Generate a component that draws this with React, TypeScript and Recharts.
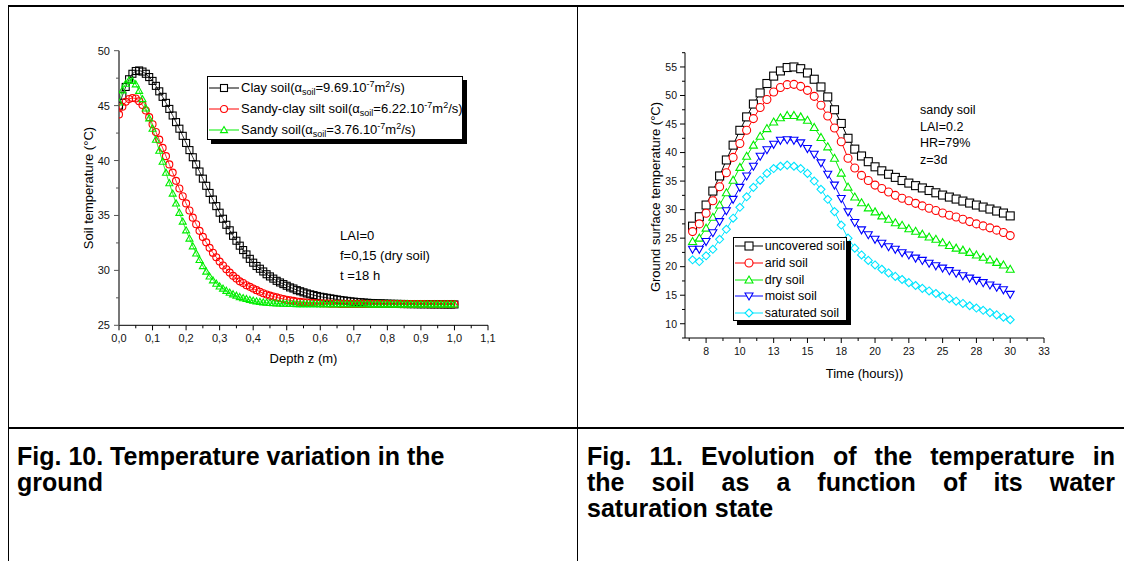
import { LineChart, Line, XAxis, YAxis, Legend } from 'recharts'

const FONT = '"Liberation Sans", Arial, Helvetica, sans-serif'

// ---- Fig. 10 : soil temperature vs depth ----
const depth = [
  0, 0.01, 0.02, 0.03, 0.04, 0.05, 0.06, 0.07, 0.08, 0.09,
  0.1, 0.11, 0.12, 0.13, 0.14, 0.15, 0.16, 0.17, 0.18, 0.19,
  0.2, 0.21, 0.22, 0.23, 0.24, 0.25, 0.26, 0.27, 0.28, 0.29,
  0.3, 0.31, 0.32, 0.33, 0.34, 0.35, 0.36, 0.37, 0.38, 0.39,
  0.4, 0.41, 0.42, 0.43, 0.44, 0.45, 0.46, 0.47, 0.48, 0.49,
  0.5, 0.51, 0.52, 0.53, 0.54, 0.55, 0.56, 0.57, 0.58, 0.59,
  0.6, 0.61, 0.62, 0.63, 0.64, 0.65, 0.66, 0.67, 0.68, 0.69,
  0.7, 0.71, 0.72, 0.73, 0.74, 0.75, 0.76, 0.77, 0.78, 0.79,
  0.8, 0.81, 0.82, 0.83, 0.84, 0.85, 0.86, 0.87, 0.88, 0.89,
  0.9, 0.91, 0.92, 0.93, 0.94, 0.95, 0.96, 0.97, 0.98, 0.99,
  1.0,
]
const claySoil = [
  45.0, 45.9, 46.7, 47.4, 47.9, 48.15, 48.2, 48.1, 47.9, 47.6,
  47.25, 46.8, 46.3, 45.8, 45.25, 44.7, 44.1, 43.5, 42.9, 42.25,
  41.6, 40.95, 40.3, 39.65, 39.0, 38.35, 37.7, 37.05, 36.45, 35.85,
  35.25, 34.7, 34.15, 33.65, 33.15, 32.7, 32.25, 31.85, 31.45, 31.05,
  30.7, 30.4, 30.15, 29.9, 29.65, 29.45, 29.25, 29.05, 28.9, 28.75,
  28.6, 28.45, 28.35, 28.2, 28.1, 28.0, 27.9, 27.82, 27.75, 27.67,
  27.6, 27.55, 27.5, 27.45, 27.4, 27.35, 27.3, 27.26, 27.22, 27.18,
  27.15, 27.12, 27.1, 27.07, 27.05, 27.03, 27.02, 27.0, 27.0, 26.98,
  26.97, 26.96, 26.95, 26.95, 26.94, 26.94, 26.93, 26.93, 26.93, 26.92,
  26.92, 26.92, 26.92, 26.91, 26.91, 26.91, 26.91, 26.9, 26.9, 26.9,
  26.9,
]
const sandyClaySoil = [
  44.2, 44.9, 45.35, 45.6, 45.7, 45.65, 45.4, 45.05, 44.55, 43.95,
  43.3, 42.6, 41.9, 41.15, 40.4, 39.65, 38.9, 38.15, 37.45, 36.75,
  36.1, 35.45, 34.8, 34.2, 33.6, 33.05, 32.55, 32.05, 31.6, 31.2,
  30.8, 30.45, 30.1, 29.8, 29.5, 29.25, 29.0, 28.85, 28.65, 28.5,
  28.35, 28.2, 28.05, 27.92, 27.8, 27.7, 27.62, 27.54, 27.46, 27.4,
  27.33, 27.27, 27.22, 27.17, 27.13, 27.1, 27.07, 27.05, 27.03, 27.01,
  27.0, 26.99, 26.98, 26.97, 26.96, 26.96, 26.95, 26.95, 26.95, 26.95,
  26.95, 26.95, 26.95, 26.95, 26.94, 26.94, 26.94, 26.94, 26.94, 26.94,
  26.94, 26.94, 26.94, 26.94, 26.93, 26.93, 26.93, 26.93, 26.93, 26.93,
  26.93, 26.93, 26.92, 26.92, 26.92, 26.92, 26.92, 26.92, 26.92, 26.92,
  26.92,
]
const sandySoil = [
  45.3, 46.4, 47.0, 47.3, 47.25, 46.95, 46.35, 45.6, 44.75, 43.85,
  42.9, 41.9, 40.9, 39.9, 38.9, 37.95, 37.0, 36.1, 35.25, 34.45,
  33.65, 32.9, 32.2, 31.55, 30.95, 30.4, 29.9, 29.45, 29.1, 28.8,
  28.55, 28.35, 28.15, 27.98, 27.83, 27.7, 27.58, 27.48, 27.4, 27.32,
  27.25, 27.19, 27.14, 27.1, 27.07, 27.04, 27.02, 27.0, 26.99, 26.98,
  26.97, 26.96, 26.95, 26.94, 26.94, 26.94, 26.94, 26.94, 26.94, 26.94,
  26.94, 26.94, 26.94, 26.93, 26.93, 26.93, 26.93, 26.93, 26.93, 26.93,
  26.93, 26.93, 26.93, 26.93, 26.93, 26.92, 26.92, 26.92, 26.92, 26.92,
  26.92, 26.92, 26.92, 26.92, 26.92, 26.92, 26.92, 26.91, 26.91, 26.91,
  26.91, 26.91, 26.91, 26.91, 26.91, 26.9, 26.9, 26.9, 26.9, 26.9,
  26.9,
]
const depthMajors = [0, 0.1, 0.2, 0.3, 0.4, 0.5, 0.6, 0.7, 0.8, 0.9, 1.0, 1.1]
const depthLabels = ['0,0', '0,1', '0,2', '0,3', '0,4', '0,5', '0,6', '0,7', '0,8', '0,9', '1,0', '1,1']
const soilTempMajors = [25, 30, 35, 40, 45, 50]
const soilTempLabels = ['25', '30', '35', '40', '45', '50']
const depthNames = ['Clay soil', 'Sandy-clay silt soil', 'Sandy soil']
const depthAlphas = ['9.69', '6.22', '3.76']

// ---- Fig. 11 : surface temperature vs time ----
const hours = [
  6.5, 7, 7.5, 8, 8.5, 9, 9.5, 10, 10.5, 11, 11.5, 12, 12.5, 13, 13.5, 14,
  14.5, 15, 15.5, 16, 16.5, 17, 17.5, 18, 18.5, 19, 19.5, 20, 20.5, 21, 21.5, 22,
  22.5, 23, 23.5, 24, 24.5, 25, 25.5, 26, 26.5, 27, 27.5, 28, 28.5, 29, 29.5, 30,
]
const uncoveredSoil = [
  27.1, 28.75, 30.8, 33.25, 35.9, 38.7, 41.3, 43.9, 46.25, 48.5, 50.45, 52.1, 53.4, 54.3, 54.9, 55.0,
  54.7, 53.95, 52.85, 51.5, 49.75, 47.5, 45.1, 42.5, 40.6, 39.4, 38.4, 37.5, 36.8, 36.2, 35.65, 35.1,
  34.65, 34.2, 33.8, 33.35, 32.95, 32.55, 32.2, 31.85, 31.5, 31.15, 30.8, 30.45, 30.1, 29.75, 29.4, 28.9,
]
const aridSoil = [
  26.15, 27.5, 29.35, 31.55, 34.0, 36.45, 39.15, 41.6, 43.9, 45.95, 47.9, 49.3, 50.6, 51.4, 51.9, 51.95,
  51.6, 50.9, 49.85, 48.3, 46.4, 44.3, 41.9, 39.0, 37.3, 36.0, 35.1, 34.3, 33.7, 33.1, 32.5, 32.0,
  31.55, 31.1, 30.65, 30.25, 29.85, 29.4, 29.0, 28.7, 28.3, 27.9, 27.5, 27.15, 26.8, 26.4, 26.0, 25.45,
]
const drySoil = [
  24.4, 25.0, 26.75, 28.65, 30.8, 32.95, 35.15, 37.4, 39.35, 41.3, 42.85, 44.2, 45.35, 46.1, 46.5, 46.5,
  46.25, 45.65, 44.4, 42.65, 41.0, 39.0, 36.4, 33.95, 32.2, 31.2, 30.3, 29.6, 28.9, 28.3, 27.7, 27.25,
  26.65, 26.2, 25.7, 25.2, 24.8, 24.2, 23.7, 23.25, 22.9, 22.5, 22.05, 21.65, 21.2, 20.75, 20.3, 19.55,
]
const moistSoil = [
  23.05, 23.05, 24.4, 25.95, 27.9, 29.8, 31.8, 33.9, 35.9, 37.6, 39.35, 40.5, 41.45, 42.15, 42.25, 42.15,
  41.7, 40.7, 39.7, 38.2, 36.2, 34.3, 31.95, 29.6, 27.75, 26.45, 25.6, 24.8, 24.1, 23.5, 23.05, 22.45,
  22.05, 21.5, 21.1, 20.6, 20.15, 19.75, 19.3, 18.85, 18.4, 18.0, 17.6, 17.2, 16.8, 16.4, 15.95, 15.15,
]
const saturatedSoil = [
  21.2, 20.9, 21.9, 23.05, 24.8, 26.55, 28.5, 30.4, 32.25, 33.9, 35.15, 36.35, 37.2, 37.6, 37.8, 37.6,
  37.2, 36.35, 35.0, 33.55, 31.8, 29.65, 27.3, 25.0, 23.25, 22.05, 21.1, 20.3, 19.55, 18.9, 18.3, 17.75,
  17.2, 16.7, 16.2, 15.75, 15.3, 14.85, 14.4, 13.95, 13.55, 13.15, 12.75, 12.35, 11.95, 11.55, 11.15, 10.7,
]
const timeMajors = [7.5, 10, 12.5, 15, 17.5, 20, 22.5, 25, 27.5, 30, 32.5]
const timeLabels = ['8', '10', '13', '15', '18', '20', '23', '25', '28', '30', '33']
const surfTempMajors = [10, 15, 20, 25, 30, 35, 40, 45, 50, 55]
const surfTempLabels = ['10', '15', '20', '25', '30', '35', '40', '45', '50', '55']
const timeNames = ['uncovered soil', 'arid soil', 'dry soil', 'moist soil', 'saturated soil']

const depthData = depth.map((z, i) => ({ z, clay: claySoil[i], sandyClay: sandyClaySoil[i], sandy: sandySoil[i] }))
const timeData = hours.map((h, i) => ({
  h, uncovered: uncoveredSoil[i], arid: aridSoil[i], dry: drySoil[i], moist: moistSoil[i], saturated: saturatedSoil[i],
}))

const depthSeries = [
  { key: 'clay', color: '#000000', shape: 'square' },
  { key: 'sandyClay', color: '#ff0000', shape: 'circle' },
  { key: 'sandy', color: '#00ee00', shape: 'up' },
]
const timeSeries = [
  { key: 'uncovered', color: '#000000', shape: 'square' },
  { key: 'arid', color: '#ff0000', shape: 'circle' },
  { key: 'dry', color: '#00ee00', shape: 'up' },
  { key: 'moist', color: '#0000ff', shape: 'down' },
  { key: 'saturated', color: '#00e5ff', shape: 'diamond' },
]

// majors plus a minor tick halfway between each pair (and at the ends if inside the domain)
function withMinors(majors: number[], lo: number, hi: number) {
  const step = majors[1] - majors[0]
  const out: number[] = []
  if (majors[0] - step / 2 >= lo - 1e-9) out.push(majors[0] - step / 2)
  majors.forEach((m) => {
    out.push(m)
    if (m + step / 2 <= hi + 1e-9) out.push(m + step / 2)
  })
  return out
}
const idx = (majors: number[], v: number) => majors.findIndex((m) => Math.abs(m - v) < 1e-6)

function Marker({ shape, cx, cy, size, color, fill = 'none' }: any) {
  const h = size / 2
  const sw = 1.1
  if (shape === 'square') return <rect x={cx - h} y={cy - h} width={size} height={size} fill={fill} stroke={color} strokeWidth={sw} />
  if (shape === 'circle') return <circle cx={cx} cy={cy} r={h} fill={fill} stroke={color} strokeWidth={sw} />
  if (shape === 'up') return <polygon points={`${cx},${cy - h} ${cx + h},${cy + h * 0.75} ${cx - h},${cy + h * 0.75}`} fill={fill} stroke={color} strokeWidth={sw} />
  if (shape === 'down') return <polygon points={`${cx},${cy + h} ${cx + h},${cy - h * 0.75} ${cx - h},${cy - h * 0.75}`} fill={fill} stroke={color} strokeWidth={sw} />
  return <polygon points={`${cx},${cy - h} ${cx + h},${cy} ${cx},${cy + h} ${cx - h},${cy}`} fill={fill} stroke={color} strokeWidth={sw} />
}
const dotFn = (shape: string, color: string, size: number, fill: string) => (p: any) => (
  <Marker key={`${p.dataKey}-${p.index}`} shape={shape} cx={p.cx} cy={p.cy} size={size} color={color} fill={fill} />
)

function bottomTick(majors: number[], labels: string[], fs: number, gap: number) {
  return (p: any) => {
    const i = idx(majors, p.payload.value)
    const len = i >= 0 ? 5 : 3
    return (
      <g>
        <line x1={p.x} x2={p.x} y1={p.y} y2={p.y + len} stroke="#000" />
        {i >= 0 && (
          <text x={p.x} y={p.y + len + gap + fs * 0.72} textAnchor="middle" fontSize={fs} fontFamily={FONT} fill="#111">
            {labels[i]}
          </text>
        )}
      </g>
    )
  }
}
function leftTick(majors: number[], labels: string[], fs: number, gap: number, color = '#000') {
  return (p: any) => {
    const i = idx(majors, p.payload.value)
    const len = i >= 0 ? 5 : 3
    return (
      <g>
        <line x1={p.x} x2={p.x - len} y1={p.y} y2={p.y} stroke={color} />
        {i >= 0 && (
          <text x={p.x - len - gap} y={p.y + fs * 0.36} textAnchor="end" fontSize={fs} fontFamily={FONT} fill="#111">
            {labels[i]}
          </text>
        )}
      </g>
    )
  }
}
function topTick(majors: number[]) {
  return (p: any) => {
    const len = idx(majors, p.payload.value) >= 0 ? 5 : 3
    return <line x1={p.x} x2={p.x} y1={p.y} y2={p.y + len} stroke="#000" />
  }
}
function rightTick(majors: number[]) {
  return (p: any) => {
    const len = idx(majors, p.payload.value) >= 0 ? 5 : 3
    return <line x1={p.x} x2={p.x - len} y1={p.y} y2={p.y} stroke="#000" />
  }
}

const sub = { fontSize: 9, position: 'relative' as const, top: 3 }
const sup = { fontSize: 9, position: 'relative' as const, top: -5 }

function LegendRow({ shape, color, size, segW, h, children }: any) {
  return (
    <div style={{ display: 'flex', alignItems: 'center', height: h }}>
      <svg width={segW} height={12} style={{ flex: 'none', overflow: 'visible' }}>
        <line x1={0} x2={segW} y1={6} y2={6} stroke={color} strokeWidth={1} />
        <Marker shape={shape} cx={segW / 2} cy={6} size={size} color={color} fill="#fff" />
      </svg>
      <span style={{ marginLeft: 2, whiteSpace: 'nowrap' }}>{children}</span>
    </div>
  )
}

function DepthLegend() {
  return (
    <div style={{ boxSizing: 'border-box', width: 256, height: 64, border: '1px solid #000', background: '#fff', boxShadow: '4px 4px 0 #000', paddingLeft: 1, paddingTop: 0.5, fontFamily: FONT, fontSize: 13, color: '#000' }}>
      {depthSeries.map((s, i) => (
        <LegendRow key={s.key} shape={s.shape} color={s.color} size={7} segW={30} h={21}>
          {depthNames[i]}(α<span style={sub}>soil</span>={depthAlphas[i]}.10<span style={sup}>-7</span>m<span style={sup}>2</span>/s)
        </LegendRow>
      ))}
    </div>
  )
}

function TimeLegend() {
  return (
    <div style={{ boxSizing: 'border-box', width: 114, height: 84, border: '1px solid #000', background: '#fff', boxShadow: '4px 4px 0 #000', paddingLeft: 1, paddingTop: 0.5, fontFamily: FONT, fontSize: 12.5, color: '#000' }}>
      {timeSeries.map((s, i) => (
        <LegendRow key={s.key} shape={s.shape} color={s.color} size={8} segW={28} h={16.6}>
          {timeNames[i]}
        </LegendRow>
      ))}
    </div>
  )
}

function DepthChart() {
  const xt = withMinors(depthMajors, 0, 1.1)
  const yt = withMinors(soilTempMajors, 25, 50)
  return (
    <LineChart width={480} height={360} data={depthData} margin={{ top: 30.7, right: 32, left: 0, bottom: 0 }}>
      <XAxis dataKey="z" type="number" domain={[0, 1.1]} ticks={xt} interval={0} allowDataOverflow height={54.7}
        tickSize={0} tickMargin={0} axisLine={{ stroke: '#000' }} tick={bottomTick(depthMajors, depthLabels, 11, 4)} />
      <XAxis xAxisId="top" orientation="top" type="number" domain={[0, 1.1]} ticks={xt} interval={0} allowDataOverflow height={0}
        tickSize={0} tickMargin={0} axisLine={{ stroke: '#000' }} tick={topTick(depthMajors)} />
      <YAxis type="number" domain={[25, 50]} ticks={yt} interval={0} allowDataOverflow width={79}
        tickSize={0} tickMargin={0} axisLine={{ stroke: '#777', strokeWidth: 2 }} tick={leftTick(soilTempMajors, soilTempLabels, 11, 4, '#555')} />
      <YAxis yAxisId="right" orientation="right" type="number" domain={[25, 50]} ticks={yt} interval={0} allowDataOverflow width={0}
        tickSize={0} tickMargin={0} axisLine={{ stroke: '#000' }} tick={rightTick(soilTempMajors)} />
      {depthSeries.map((s) => (
        <Line key={s.key} dataKey={s.key} stroke={s.color} strokeWidth={0.8} isAnimationActive={false}
          dot={dotFn(s.shape, s.color, 7, 'none')} activeDot={false} />
      ))}
      <Legend layout="vertical" align="center" verticalAlign="middle" content={() => <DepthLegend />}
        wrapperStyle={{ left: 167, top: 55.7, width: 'auto', height: 'auto' }} />
    </LineChart>
  )
}

function TimeChart() {
  const xt = withMinors(timeMajors, 5.94, 32.5)
  const yt = withMinors(surfTempMajors, 7.5, 57.5)
  return (
    <LineChart width={480} height={380} data={timeData} margin={{ top: 32.7, right: 36, left: 0, bottom: 0 }}>
      <XAxis dataKey="h" type="number" domain={[5.94, 32.5]} ticks={xt} interval={0} allowDataOverflow height={62}
        tickSize={0} tickMargin={0} axisLine={{ stroke: '#000' }} tick={bottomTick(timeMajors, timeLabels, 10.5, 4)} />
      <XAxis xAxisId="top" orientation="top" type="number" domain={[5.94, 32.5]} ticks={xt} interval={0} allowDataOverflow height={0}
        tickSize={0} tickMargin={0} axisLine={{ stroke: '#000' }} tick={topTick(timeMajors)} />
      <YAxis type="number" domain={[7.5, 57.5]} ticks={yt} interval={0} allowDataOverflow width={85}
        tickSize={0} tickMargin={0} axisLine={{ stroke: '#000' }} tick={leftTick(surfTempMajors, surfTempLabels, 10.5, 3)} />
      <YAxis yAxisId="right" orientation="right" type="number" domain={[7.5, 57.5]} ticks={yt} interval={0} allowDataOverflow width={0}
        tickSize={0} tickMargin={0} axisLine={{ stroke: '#000' }} tick={rightTick(surfTempMajors)} />
      {timeSeries.map((s) => (
        <Line key={s.key} dataKey={s.key} stroke={s.color} strokeWidth={1} isAnimationActive={false}
          dot={dotFn(s.shape, s.color, 8, '#fff')} activeDot={false} />
      ))}
      <Legend layout="vertical" align="center" verticalAlign="middle" content={() => <TimeLegend />}
        wrapperStyle={{ left: 132.7, top: 216.7, width: 'auto', height: 'auto' }} />
    </LineChart>
  )
}

const abs = (s: any) => ({ position: 'absolute' as const, ...s })
const caption = { fontSize: 25, fontWeight: 'bold' as const, lineHeight: '26px', color: '#000', whiteSpace: 'nowrap' as const }

export default function App() {
  return (
    <div style={abs({ left: 0, top: 0, width: 1124, height: 561, background: '#fff', overflow: 'hidden', fontFamily: FONT, color: '#000' })}>
      {/* table rules */}
      <div style={abs({ left: 8, top: 5, width: 1116, height: 2, background: '#000' })} />
      <div style={abs({ left: 8, top: 5, width: 1, height: 556, background: '#000' })} />
      <div style={abs({ left: 577, top: 5, width: 1, height: 556, background: '#000' })} />
      <div style={abs({ left: 8, top: 427, width: 1116, height: 2, background: '#000' })} />

      <div style={abs({ left: 40, top: 20 })}><DepthChart /></div>
      <div style={abs({ left: 600, top: 20 })}><TimeChart /></div>

      {/* axis titles and notes, Fig. 10 */}
      <div style={abs({ left: 88, top: 188, fontSize: 13, whiteSpace: 'nowrap', transform: 'translate(-50%,-50%) rotate(-90deg)' })}>Soil temperature (°C)</div>
      <div style={abs({ left: 303.5, top: 358, fontSize: 13, whiteSpace: 'nowrap', transform: 'translate(-50%,-50%)' })}>Depth z (m)</div>
      <div style={abs({ left: 340, top: 226, fontSize: 13, lineHeight: '20px', whiteSpace: 'nowrap' })}>
        <div>LAI=0</div><div>f=0,15 (dry soil)</div><div>t =18 h</div>
      </div>

      {/* axis titles and notes, Fig. 11 */}
      <div style={abs({ left: 655, top: 197, fontSize: 13, whiteSpace: 'nowrap', transform: 'translate(-50%,-50%) rotate(-90deg)' })}>Ground surface temperature (°C)</div>
      <div style={abs({ left: 864.5, top: 373, fontSize: 13, whiteSpace: 'nowrap', transform: 'translate(-50%,-50%)' })}>Time (hours))</div>
      <div style={abs({ left: 920, top: 102, fontSize: 12.5, lineHeight: '16.7px', whiteSpace: 'nowrap' })}>
        <div>sandy soil</div><div>LAI=0.2</div><div>HR=79%</div><div>z=3d</div>
      </div>

      {/* captions */}
      <div style={abs({ left: 17, top: 443, ...caption })}>
        <div>Fig. 10. Temperature variation in the</div>
        <div>ground</div>
      </div>
      <div style={abs({ left: 587, top: 443, width: 528, ...caption })}>
        <div style={{ textAlign: 'justify', textAlignLast: 'justify' }}>Fig. 11. Evolution of the temperature in</div>
        <div style={{ textAlign: 'justify', textAlignLast: 'justify' }}>the soil as a function of its water</div>
        <div>saturation state</div>
      </div>
    </div>
  )
}
